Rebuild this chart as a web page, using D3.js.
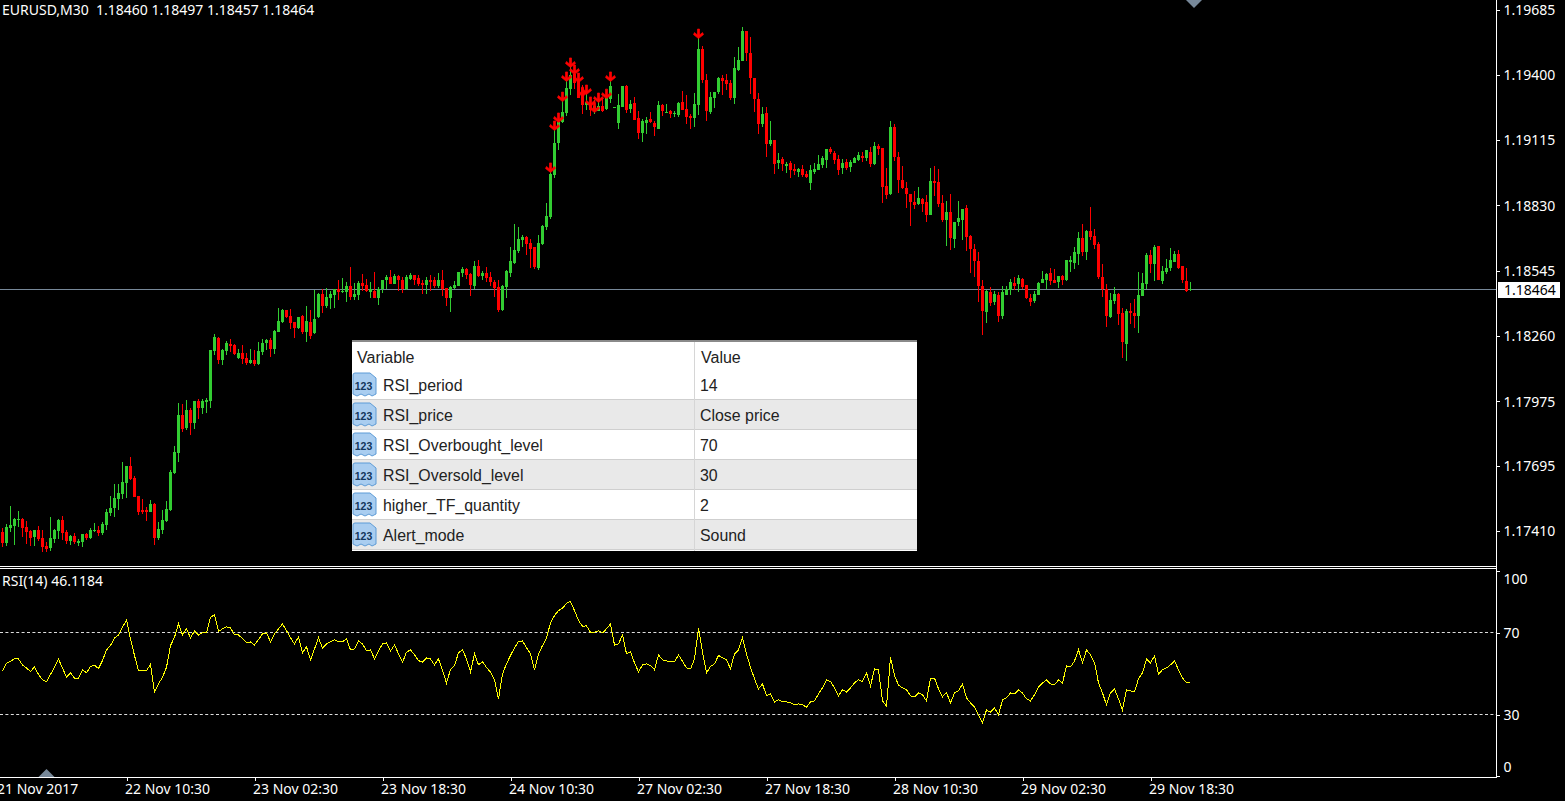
<!DOCTYPE html>
<html><head><meta charset="utf-8">
<script src="https://cdnjs.cloudflare.com/ajax/libs/d3/7.8.5/d3.min.js"></script>
<style>
html,body{margin:0;padding:0;background:#000;overflow:hidden}
svg{display:block}
.lab{font-family:"Noto Sans",sans-serif;font-size:14px;fill:#fff}
.tbl{font-family:"Liberation Sans",Arial,sans-serif;font-size:16px;fill:#222}
</style></head><body>
<svg id="c" width="1565" height="801"></svg>
<script>
// Prices are stored as points (0.00001) above 1.17000.
const BASE = 1.17, POINT = 1e-5;
const symbolTitle = "EURUSD,M30  1.18460 1.18497 1.18457 1.18464";
const rsiTitle = "RSI(14) 46.1184";
const highPts = [421,439,519,466,497,466,453,414,414,431,414,362,471,418,462,475,414,392,401,375,397,401,423,445,431,449,506,562,615,615,711,693,733,650,562,549,514,545,532,449,501,541,676,781,968,964,981,946,977,986,986,990,1199,1269,1256,1204,1239,1247,1226,1204,1221,1186,1204,1199,1234,1247,1247,1252,1287,
1383,1378,1374,1378,1322,1343,1352,1391,1374,1461,1448,1465,1470,1457,1465,1505,1513,1496,1562,1492,1500,1531,1509,1496,1540,1474,1505,1527,1548,1531,1527,1518,1527,1535,1527,1527,1505,1518,1527,1518,1535,1548,1470,1479,1500,1540,1562,1557,1535,1588,1592,1544,1562,1540,1505,1505,1483,1548,1649,1749,1736,1701,1697,1684,1649,1701,1745,1841,1976,2159,2203,2290,2377,2434,2408,2377,2356,2316,2290,2290,2281,2294,2308,2377,2260,2316,2351,2356,2290,2303,2242,2207,2216,2238,2198,2286,2273,2273,2247,2242,2281,2329,2312,2229,2321,2582,2526,2403,2325,2325,2390,2399,2403,2377,2478,2521,2609,2591,2565,2386,2321,2260,2260,2198,2116,2059,2041,2020,2024,2011,1993,2007,1980,2007,2015,2050,2046,2076,2085,2068,2050,2033,2033,2028,2041,2063,2063,2072,2085,2107,2098,2081,1993,2198,2185,2063,2002,1932,1880,1893,1911,1862,1876,1993,2002,1989,1876,1849,1880,1758,1849,1815,1832,1701,1662,1627,1505,1461,1474,1457,1452,1479,1479,1509,1518,1527,1513,1483,1444,1457,1496,1544,1535,1557,1553,1522,1527,1592,1609,1649,1714,1749,1723,1823,1727,1670,1575,1487,1448,1474,1448,1383,1378,1404,1422,1540,1535,1623,1636,1657,1653,1566,1596,1644,1631,1636,1566,1557,1497];
const lowPts = [340,344,405,349,429,383,353,344,344,366,318,318,322,357,375,370,353,349,353,344,340,370,375,405,388,392,414,475,471,501,549,554,632,558,480,484,453,493,349,370,397,449,497,658,711,842,850,828,855,898,920,924,946,1178,1138,1134,1178,1191,1178,1160,1138,1134,1138,1130,1134,1178,1199,1169,1182,
1278,1317,1339,1291,1252,1291,1269,1234,1247,1269,1339,1361,1383,1378,1383,1418,1448,1409,1418,1418,1418,1457,1452,1426,1426,1396,1448,1465,1487,1487,1457,1448,1461,1505,1483,1479,1444,1444,1457,1470,1470,1435,1391,1365,1465,1479,1518,1509,1435,1465,1518,1505,1496,1479,1431,1365,1370,1426,1518,1575,1623,1649,1614,1557,1553,1548,1657,1723,1771,1950,2072,2190,2220,2312,2338,2299,2229,2247,2220,2229,2242,2238,2247,2277,2255,2164,2260,2233,2233,2203,2120,2107,2142,2190,2133,2164,2220,2233,2212,2216,2216,2247,2185,2164,2172,2225,2364,2198,2229,2255,2316,2312,2334,2290,2273,2417,2460,2460,2316,2238,2142,2172,2041,2089,1967,1989,1980,1972,1950,1963,1954,1954,1950,1897,1967,1985,1993,1993,2054,2011,1963,1967,1985,1976,2015,2024,2020,2024,1998,2007,2050,1841,1858,1876,2024,1884,1902,1819,1740,1815,1832,1801,1758,1788,1871,1823,1758,1653,1636,1644,1740,1679,1631,1535,1518,1409,1265,1317,1391,1396,1322,1335,1439,1439,1461,1452,1465,1422,1391,1404,1439,1492,1465,1483,1492,1470,1483,1500,1540,1553,1570,1609,1592,1679,1640,1509,1431,1300,1339,1400,1308,1164,1151,1313,1295,1274,1435,1465,1535,1500,1505,1487,1531,1544,1583,1553,1492,1452,1457];
const openPts = [405,357,423,431,458,462,427,410,383,414,379,344,335,375,410,458,405,366,388,359,362,397,379,410,414,401,436,488,510,549,571,619,693,641,562,501,501,493,527,379,414,453,501,663,750,916,859,938,881,977,946,972,977,1195,1252,1156,1195,1226,1221,1164,1186,1164,1143,1156,1138,1191,1230,1243,1204,
1278,1322,1374,1348,1322,1295,1348,1278,1322,1274,1343,1444,1391,1426,1439,1465,1452,1452,1479,1431,1439,1492,1483,1452,1457,1426,1465,1505,1518,1487,1522,1505,1465,1509,1527,1513,1492,1483,1505,1505,1479,1505,1470,1426,1470,1479,1535,1553,1531,1479,1566,1522,1535,1518,1496,1474,1374,1474,1535,1579,1631,1679,1692,1666,1649,1557,1662,1736,1780,1963,2102,2194,2233,2338,2403,2377,2342,2268,2268,2247,2242,2264,2251,2294,2255,2190,2260,2351,2251,2277,2212,2146,2190,2207,2190,2164,2268,2233,2242,2229,2225,2281,2251,2220,2212,2268,2513,2377,2238,2299,2325,2386,2377,2364,2299,2421,2460,2591,2495,2386,2294,2185,2233,2098,2116,2015,2033,2002,2015,1989,1976,1989,1967,1928,1976,1985,2007,2028,2076,2059,2033,1993,2020,1998,2015,2028,2046,2037,2063,2011,2089,2081,1915,1880,2172,2041,1941,1906,1880,1845,1836,1858,1845,1788,1937,1932,1841,1767,1801,1684,1758,1767,1819,1697,1640,1588,1479,1365,1452,1409,1439,1348,1439,1461,1492,1487,1509,1483,1426,1413,1439,1492,1505,1535,1505,1496,1522,1505,1583,1579,1618,1688,1627,1718,1697,1662,1518,1465,1343,1413,1444,1361,1225,1370,1361,1348,1435,1487,1614,1575,1653,1500,1540,1557,1583,1618,1566,1500,1460];
const closePts = [357,427,436,462,462,423,405,379,414,375,340,331,379,414,458,401,366,388,362,368,397,379,414,414,401,440,493,510,554,575,623,693,636,558,493,493,493,527,379,418,458,506,667,754,916,855,938,881,977,946,977,981,1199,1256,1156,1199,1230,1217,1182,1186,1160,1143,1156,1138,1195,1230,1243,1204,1282,
1326,1374,1343,1317,1295,1343,1278,1326,1260,1335,1444,1391,1431,1444,1465,1452,1457,1479,1431,1444,1492,1479,1457,1465,1426,1465,1505,1518,1487,1522,1505,1465,1518,1527,1505,1487,1483,1505,1496,1479,1505,1465,1426,1474,1483,1540,1553,1527,1483,1566,1522,1535,1513,1496,1470,1374,1479,1544,1588,1636,1684,1692,1662,1640,1562,1666,1740,1784,1967,2102,2194,2238,2342,2399,2364,2299,2268,2281,2247,2264,2264,2242,2299,2351,2260,2268,2351,2247,2273,2203,2146,2198,2203,2194,2172,2268,2242,2238,2229,2233,2277,2247,2216,2212,2273,2513,2377,2242,2303,2325,2386,2373,2360,2299,2430,2465,2591,2495,2386,2294,2185,2229,2098,2116,2011,2028,2011,2011,1985,1980,1989,1963,1954,1985,1989,2011,2037,2076,2063,2028,1985,2015,1993,2020,2037,2050,2037,2072,2011,2089,2076,1911,1876,2172,2041,1941,1906,1880,1845,1832,1862,1836,1788,1937,1928,1836,1767,1801,1688,1758,1775,1815,1692,1640,1588,1479,1370,1457,1404,1444,1348,1452,1465,1496,1479,1513,1474,1426,1409,1444,1492,1509,1531,1500,1492,1522,1505,1592,1592,1627,1688,1627,1718,1692,1657,1518,1465,1348,1418,1444,1356,1234,1370,1361,1348,1439,1492,1614,1575,1649,1505,1544,1557,1592,1618,1557,1505,1457,1464];
const rsiValues = [51.6,55.2,56.2,57.3,57.3,54.4,52.9,51.1,53.4,49.7,47.2,46.1,49.8,53.2,57.2,52.8,48.4,50.5,47.9,47.9,52.0,50.5,53.6,54.2,52.6,56.5,61.7,63.8,67.6,68.9,72.8,76.3,67.1,59.0,51.5,51.5,51.5,54.7,41.2,45.1,48.4,53.2,63.8,67.9,74.4,69.0,72.0,67.6,71.0,69.0,70.0,70.0,77.6,78.8,70.7,72.0,73.0,72.4,69.0,69.0,67.2,65.3,65.6,64.1,66.7,69.5,70.0,65.6,69.5,72.0,74.4,71.1,67.6,64.6,68.0,60.3,63.2,56.8,62.2,67.6,62.7,64.6,65.6,66.6,65.6,65.6,67.1,61.7,62.2,66.1,64.6,61.2,61.7,57.3,61.2,64.6,65.1,61.2,64.1,59.8,
55.7,60.6,61.7,59.3,56.5,55.7,57.8,57.3,54.4,57.3,51.6,45.6,52.1,54.1,60.3,61.7,57.3,51.0,59.8,54.4,55.9,53.2,50.8,47.1,37.8,50.0,54.9,59.0,62.7,65.8,66.1,62.7,59.8,52.0,59.8,63.8,67.4,74.9,78.5,80.9,82.0,84.5,85.3,80.9,76.0,73.3,73.4,70.3,70.3,71.0,70.0,72.0,74.4,64.1,64.6,69.0,59.8,60.7,55.4,51.0,54.4,54.9,54.1,52.0,59.3,56.8,56.3,55.9,55.9,59.3,56.2,52.9,52.4,57.3,72.4,60.7,50.5,53.6,54.9,59.0,57.8,57.0,52.4,59.8,61.7,67.6,59.8,53.2,47.6,42.7,45.1,39.3,40.2,36.3,37.5,36.3,36.3,35.9,34.9,35.4,
34.9,33.7,36.3,36.8,40.2,43.2,47.1,46.3,43.2,39.3,42.2,41.2,43.2,45.6,47.1,46.3,50.5,44.1,52.4,52.0,36.8,34.2,58.0,49.2,44.6,43.2,42.2,39.3,38.8,40.7,39.8,36.8,48.0,48.0,42.7,38.8,40.9,35.9,40.7,41.7,45.1,38.3,35.9,33.9,30.0,26.1,32.4,31.3,33.4,30.0,37.3,38.3,40.7,40.2,42.2,40.7,37.8,36.8,39.8,43.7,45.6,47.1,45.1,44.6,47.1,45.6,53.9,53.4,56.3,61.7,55.4,61.7,59.3,55.4,45.6,40.7,34.9,40.7,42.7,37.8,32.4,42.2,41.7,41.2,47.6,50.5,57.3,55.4,58.8,50.0,52.0,52.9,54.4,56.3,52.0,48.0,45.6,46.1184];
const arrowBars = [137,138,139,140,141,142,143,144,145,146,147,148,149,151,152,174];
const arrowPts = [1972,2155,2190,2281,2369,2430,2399,2364,2303,2312,2260,2233,2277,2294,2369,2556];
const priceTicks = [1.19685,1.194,1.19115,1.1883,1.18545,1.1826,1.17975,1.17695,1.1741];
const lastPrice = 1.18464;
const rsiTicks = [100,70,30,0];
const rsiLevels = [70,30];
const timeBars = [-1,31,63,95,127,159,191,223,255,287];
const timeLabels = ["21 Nov 2017","22 Nov 10:30","23 Nov 02:30","23 Nov 18:30","24 Nov 10:30","27 Nov 02:30","27 Nov 18:30","28 Nov 10:30","29 Nov 02:30","29 Nov 18:30"];
const tableHeader = ["Variable","Value"];
const tableVariables = ["RSI_period","RSI_price","RSI_Overbought_level","RSI_Oversold_level","higher_TF_quantity","Alert_mode"];
const tableValues = ["14","Close price","70","30","2","Sound"];

const GREEN="#32CD32", RED="#FF0000", SLATE="#778899";
const svg = d3.select("#c");
const price = p => BASE + p*POINT;
const x = d3.scaleLinear().domain([0,297]).range([2.5,1190.5]);
const y = d3.scaleLinear().domain([1.1741,1.19685]).range([531,9.5]);
const yR = d3.scaleLinear().domain([0,100]).range([776.4,571.4]);

// bid line
svg.append("rect").attr("x",0).attr("y",Math.floor(y(lastPrice))).attr("width",1497).attr("height",1).attr("fill",SLATE);

// candles
const bars = d3.range(openPts.length);
const color = i => closePts[i]>=openPts[i] ? GREEN : RED;
const g = svg.append("g").attr("shape-rendering","crispEdges");
g.selectAll(".w").data(bars).join("rect").attr("class","w")
 .attr("x",i=>x(i)-0.5).attr("width",1)
 .attr("y",i=>y(price(highPts[i])))
 .attr("height",i=>Math.max(1,y(price(lowPts[i]))-y(price(highPts[i]))))
 .attr("fill",color);
g.selectAll(".b").data(bars).join("rect").attr("class","b")
 .attr("x",i=>x(i)-1.5).attr("width",3)
 .attr("y",i=>y(price(Math.max(openPts[i],closePts[i]))))
 .attr("height",i=>Math.max(1,Math.abs(y(price(openPts[i]))-y(price(closePts[i])))))
 .attr("fill",color);

// arrows
svg.append("g").selectAll("path").data(arrowBars).join("path")
 .attr("transform",(b,k)=>`translate(${x(b)},${y(price(arrowPts[k]))})`)
 .attr("d","M-1,-10L1,-10L1,-4L4,-6.5L5,-4.5L0,-0.5L-5,-4.5L-4,-6.5L-1,-4Z")
 .attr("fill",RED).attr("stroke",RED).attr("stroke-width",0.7);

// RSI
svg.append("g").selectAll("line").data(rsiLevels).join("line")
 .attr("x1",0).attr("x2",1497)
 .attr("y1",d=>Math.floor(yR(d))+0.5).attr("y2",d=>Math.floor(yR(d))+0.5)
 .attr("stroke","#ddd").attr("stroke-width",1).attr("stroke-dasharray","3,2.4");
svg.append("path").datum(rsiValues)
 .attr("d",d3.line().x((d,i)=>x(i)).y(d=>yR(d)))
 .attr("fill","none").attr("stroke","#FFFF00").attr("stroke-width",1).attr("shape-rendering","crispEdges");

// frame
const frame = svg.append("g").attr("fill","#fff").attr("shape-rendering","crispEdges");
frame.append("rect").attr("x",0).attr("y",566).attr("width",1497).attr("height",1);
frame.append("rect").attr("x",0).attr("y",568).attr("width",1497).attr("height",1);

// axes
const axP = svg.append("g").attr("transform","translate(1496.5,0)")
 .call(d3.axisRight(y).tickValues(priceTicks).tickSize(3).tickPadding(4).tickFormat(d3.format(".5f")));
const axR = svg.append("g").attr("transform","translate(1496.5,0)")
 .call(d3.axisRight(yR).tickValues(rsiTicks).tickSize(3).tickPadding(4).tickFormat(d3.format("d")));
axR.selectAll("text").attr("dy",d=>d===100?"0.85em":d===0?"-0.32em":"0.32em");
const axT = svg.append("g").attr("transform","translate(0,777.5)")
 .call(d3.axisBottom(x).tickValues(timeBars).tickSize(3).tickPadding(5).tickFormat((d,k)=>timeLabels[k]));
axT.selectAll("text").attr("text-anchor","start").attr("dx",-2).attr("dy","0.62em");
[axP,axR,axT].forEach(a=>{
  a.selectAll("text").attr("class","lab");
  a.selectAll("line").attr("stroke","#fff").attr("shape-rendering","crispEdges");
  a.select(".domain").remove();
});
axP.selectAll("text").attr("dy","0.34em");
frame.append("rect").attr("x",1496).attr("y",0).attr("width",1).attr("height",778);
frame.append("rect").attr("x",0).attr("y",777).attr("width",1497).attr("height",1);

// last price label
svg.append("rect").attr("x",1498).attr("y",282).attr("width",62).attr("height",16).attr("fill","#fff");
svg.append("text").attr("class","lab").attr("x",1504).attr("y",y(lastPrice)+5.5).style("fill","#000").text(d3.format(".5f")(lastPrice));

// titles
svg.append("text").attr("class","lab").attr("x",2).attr("y",15).attr("xml:space","preserve").style("white-space","pre").text(symbolTitle);
svg.append("text").attr("class","lab").attr("x",2).attr("y",586).text(rsiTitle);

// shift markers
svg.append("path").attr("d","M1186,0L1202,0L1194,8Z").attr("fill",SLATE);
svg.append("path").attr("d","M38.5,777L54.5,777L46.5,769Z").attr("fill",SLATE);

// inputs table
const T = svg.append("g");
T.append("rect").attr("x",352).attr("y",340).attr("width",565).attr("height",211).attr("fill","#fff");
T.append("rect").attr("x",352).attr("y",340).attr("width",565).attr("height",2).attr("fill","#8a8a8a");
T.append("text").attr("class","tbl").attr("x",357).attr("y",363).text(tableHeader[0]);
T.append("text").attr("class","tbl").attr("x",701).attr("y",363).text(tableHeader[1]);
const rows = T.selectAll(".row").data(tableVariables).join("g").attr("class","row")
 .attr("transform",(d,i)=>`translate(352,${370+30*i})`);
rows.append("rect").attr("width",565).attr("height",30).attr("fill",(d,i)=>i%2?"#e9e9e9":"#fff");
rows.append("rect").attr("y",29).attr("width",565).attr("height",1).attr("fill","#cfcfcf");
rows.append("path").attr("d","M1,5Q1,3 3,3L18,3L24,8L24,24L20,26L17,24L13,26L9,24L5,26L1,24Z")
 .attr("fill","#a9cdf0").attr("stroke","#5d9bd6").attr("stroke-width",1);
rows.append("text").attr("x",11.5).attr("y",20).attr("text-anchor","middle")
 .style("font","bold 10.5px 'Liberation Sans',sans-serif").attr("fill","#12355b").text("123");
rows.append("text").attr("class","tbl").attr("x",31).attr("y",21).style("font-size","15.9px").text(d=>d);
rows.append("text").attr("class","tbl").attr("x",348).attr("y",21).style("font-size","15.9px").text((d,i)=>tableValues[i]);
T.append("rect").attr("x",694).attr("y",342).attr("width",1).attr("height",209).attr("fill","#d6d6d6");
</script>
</body></html>
